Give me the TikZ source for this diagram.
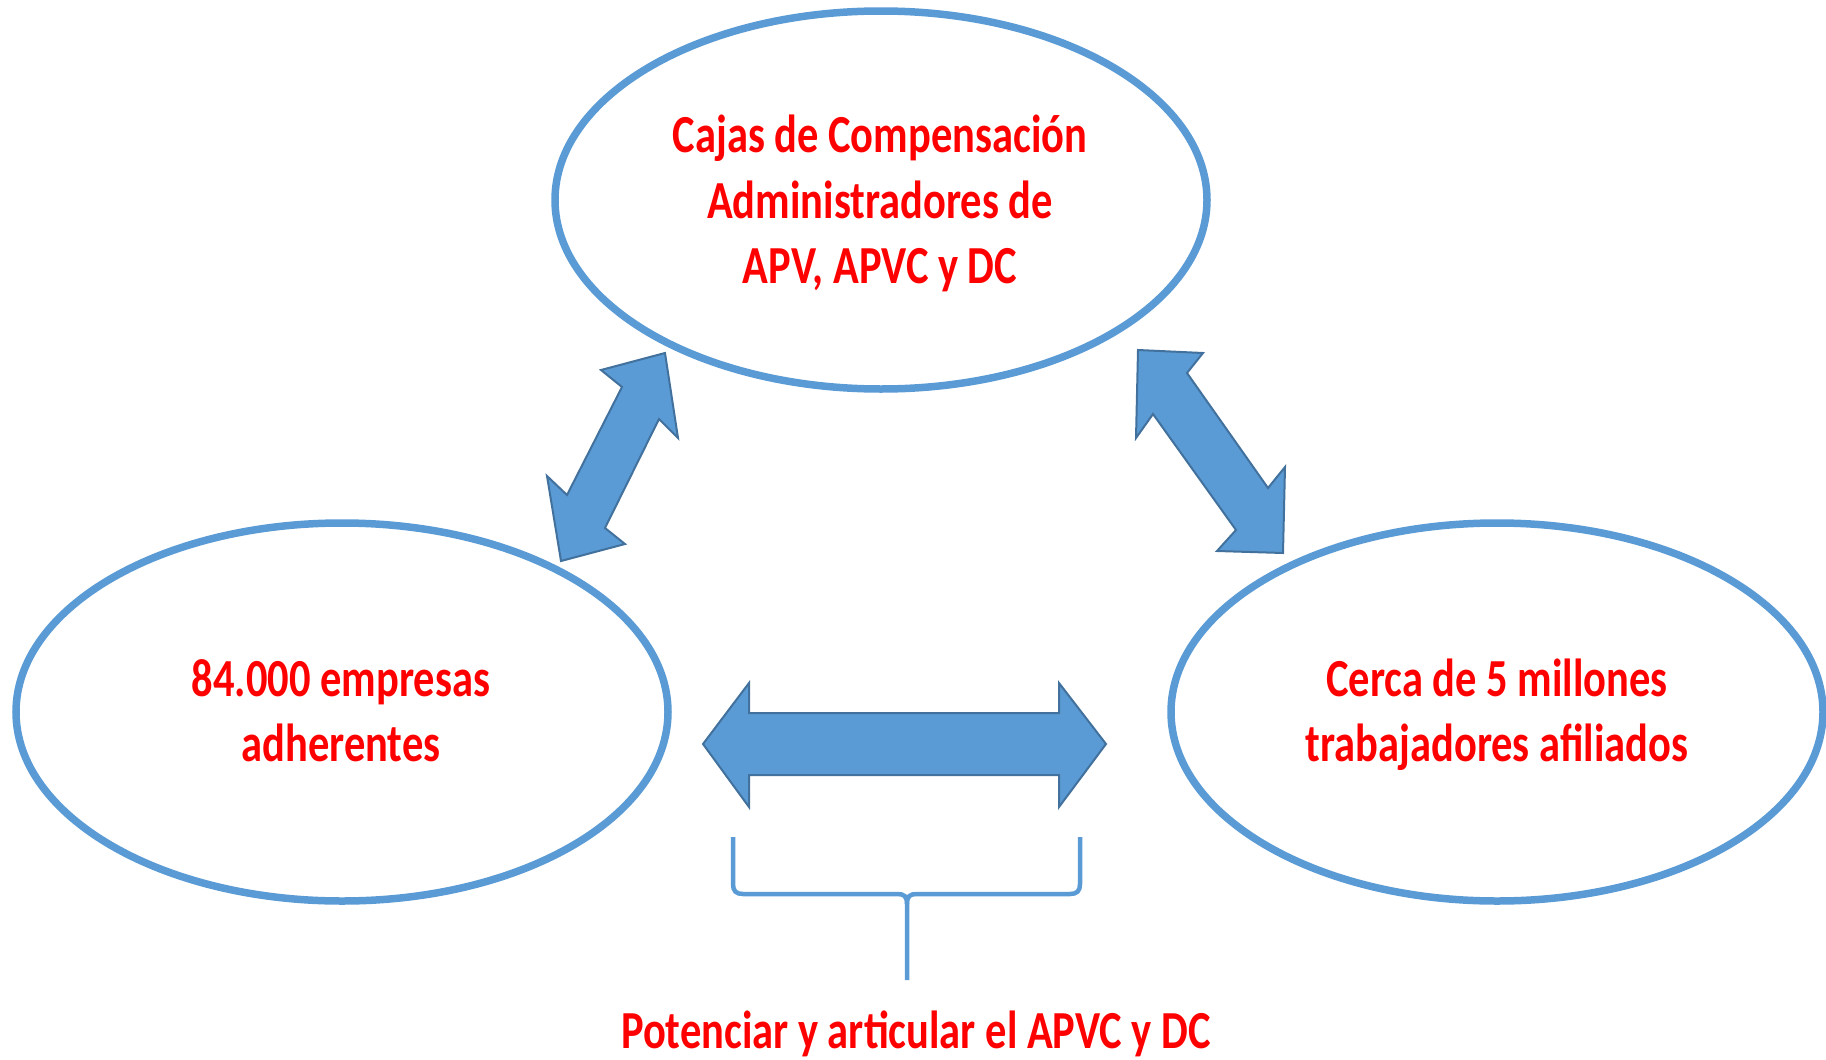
\documentclass[tikz,border=0pt]{standalone}
\usepackage{fontspec}
\setmainfont{Carlito}
\usepackage{graphicx}
\usetikzlibrary{shapes.geometric}
\definecolor{ellblue}{HTML}{5B9BD5}
\definecolor{arrfill}{HTML}{5B9BD5}
\definecolor{arredge}{HTML}{41719C}
\newcommand\stretchtxt[1]{\scalebox{1}[1.26]{\begin{tabular}{@{}c@{}}#1\end{tabular}}}
\begin{document}
\begin{tikzpicture}[x=1pt,y=-1pt,
  ell/.style={ellipse, draw=ellblue, line width=7.5pt, minimum width=652pt, minimum height=378pt, inner sep=0pt, outer sep=0pt},
  lbl/.style={text=red, font=\fontsize{42.5}{52}\selectfont\bfseries, inner sep=0pt},
  blockarrow/.style={fill=arrfill, draw=arredge, line width=2pt, line join=miter},
  brace/.style={draw=ellblue, line width=4.5pt}]
\useasboundingbox (0,0) rectangle (1826,1060);

% ellipses
\node[ell] (top) at (881,200) {};
\node[ell] (left) at (342,712) {};
\node[ell] (right) at (1497,712) {};

% labels
\node[lbl] (toptxt) at (880,205) {\stretchtxt{Cajas de Compensación\\Administradores de\\APV, APVC y DC}};
\node[lbl] (lefttxt) at (341,716) {\stretchtxt{84.000 empresas\\adherentes}};
\node[lbl] (righttxt) at (1497,716) {\stretchtxt{Cerca de 5 millones\\trabajadores afiliados}};
\node[lbl] (bottxt) at (916,1035) {\stretchtxt{Potenciar y articular el APVC y DC}};

% left diagonal double arrow
\draw[blockarrow] (665,353) -- (678,438) -- (659,419) -- (605,528) -- (625,544) -- (561,561)
  -- (547,476) -- (567,495) -- (622,387) -- (601,370) -- cycle;
% right diagonal double arrow
\draw[blockarrow] (1138,350) -- (1203,353) -- (1187,373) -- (1268,488) -- (1285,467) -- (1283,553)
  -- (1217,551) -- (1236,530) -- (1153,414) -- (1136,438) -- cycle;
% horizontal double arrow
\draw[blockarrow] (703,744) -- (749,683) -- (749,713) -- (1059,713) -- (1059,683) -- (1106,744)
  -- (1059,807) -- (1059,775) -- (749,775) -- (749,807) -- cycle;

% brace
\coordinate (bl) at (733,837);
\coordinate (br) at (1080,837);
\coordinate (bm) at (907,980);
\draw[brace] (bl) -- (733,884) .. controls (733,891) and (736,894) .. (743,894) -- (897,894)
  .. controls (904,894) and (907,896) .. (907,904) -- (bm);
\draw[brace] (br) -- (1080,884) .. controls (1080,891) and (1077,894) .. (1070,894) -- (917,894)
  .. controls (910,894) and (907,896) .. (907,904);
\end{tikzpicture}
\end{document}
